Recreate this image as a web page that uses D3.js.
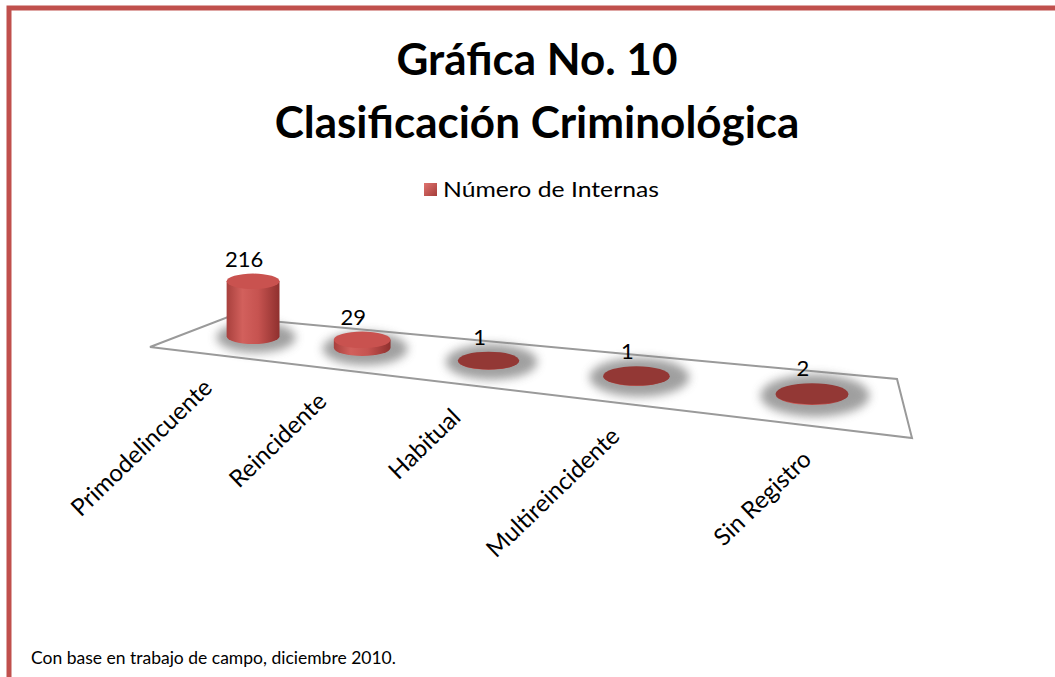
<!DOCTYPE html>
<html>
<head>
<meta charset="utf-8">
<script src="https://cdn.jsdelivr.net/npm/d3@7"></script>
<style>
  body { margin: 0; background: #fff; }
  svg { display: block; font-family: Lato, "Open Sans", sans-serif; }
</style>
</head>
<body>
<div id="chart"></div>
<script>
// datos de la gráfica
const categories = ["Primodelincuente", "Reincidente", "Habitual", "Multireincidente", "Sin Registro"]
const values = [216, 29, 1, 1, 2]
const seriesName = "Número de Internas"
const titleLines = ["Gráfica No. 10", "Clasificación Criminológica"]
const note = "Con base en trabajo de campo, diciembre 2010."

const width = 1055
const height = 677

const svg = d3.select('#chart').append('svg')
    .attr('width', width).attr('height', height)

const defs = svg.append('defs')

const bodyGrad = defs.append('linearGradient').attr('id', 'body-grad')
    .attr('x1', 0).attr('x2', 1).attr('y1', 0).attr('y2', 0)
bodyGrad.selectAll('stop')
    .data([[0, '#a8403d'], [0.3, '#d2605c'], [0.6, '#c65350'], [1, '#8f302e']])
    .enter().append('stop')
    .attr('offset', d => d[0]).attr('stop-color', d => d[1])

const legendGrad = defs.append('linearGradient').attr('id', 'legend-grad')
    .attr('x1', 0).attr('x2', 1).attr('y1', 0).attr('y2', 1)
legendGrad.selectAll('stop')
    .data([[0, '#e07470'], [1, '#a53c39']])
    .enter().append('stop')
    .attr('offset', d => d[0]).attr('stop-color', d => d[1])

defs.append('filter').attr('id', 'blur')
    .attr('x', '-50%').attr('y', '-100%').attr('width', '200%').attr('height', '300%')
    .append('feGaussianBlur').attr('stdDeviation', 5)

// marco rojo (solo arriba e izquierda)
svg.append('path')
    .attr('d', `M9,${height} L9,8 L${width},8`)
    .attr('fill', 'none').attr('stroke', '#c0504d').attr('stroke-width', 5)

// título
svg.append('g').selectAll('text').data(titleLines)
    .enter().append('text')
    .attr('x', 537).attr('y', (d, i) => 75 + i * 63)
    .attr('text-anchor', 'middle')
    .attr('font-size', 44).attr('font-weight', 'bold')
    .attr('fill', '#000')
    .text(d => d)

// leyenda
const legend = svg.append('g')
legend.append('rect')
    .attr('x', 424).attr('y', 183).attr('width', 13).attr('height', 13)
    .attr('fill', 'url(#legend-grad)')
legend.append('text')
    .attr('x', 443).attr('y', 197)
    .attr('font-size', 22).attr('fill', '#000')
    .attr('textLength', 216).attr('lengthAdjust', 'spacingAndGlyphs')
    .text(seriesName)

// piso en perspectiva: esquinas (atrás-izq, atrás-der, frente-der, frente-izq)
const floor = [[228, 317], [897, 379], [912, 438], [150, 347]]

function homography(q) {
    const [x0, y0] = q[0], [x1, y1] = q[1], [x2, y2] = q[2], [x3, y3] = q[3]
    const dx1 = x1 - x2, dy1 = y1 - y2
    const dx2 = x3 - x2, dy2 = y3 - y2
    const dx3 = x0 - x1 + x2 - x3, dy3 = y0 - y1 + y2 - y3
    const den = dx1 * dy2 - dx2 * dy1
    const g = (dx3 * dy2 - dx2 * dy3) / den
    const h = (dx1 * dy3 - dx3 * dy1) / den
    const a = x1 - x0 + g * x1, b = x3 - x0 + h * x3, c = x0
    const d = y1 - y0 + g * y1, e = y3 - y0 + h * y3, f = y0
    return (u, v) => {
        const w = g * u + h * v + 1
        return [(a * u + b * v + c) / w, (d * u + e * v + f) / w, w]
    }
}
const project = homography(floor)

const uScale = d3.scalePoint().domain(categories).range([0.12, 0.91])
const hScale = d3.scaleLinear().domain([0, d3.max(values)]).range([0, 50])
const topColor = d3.scaleLinear().domain([1, 5]).range(['#933835', '#c9524f']).clamp(true)

svg.append('path')
    .attr('d', d3.line()(floor) + 'Z')
    .attr('fill', '#fff').attr('stroke', '#9a9a9a').attr('stroke-width', 2)

const bars = categories.map((c, i) => {
    const [x, y, w] = project(uScale(c), 0.47)
    const rx = 24 / w, ry = 7 / w
    const hh = hScale(values[i]) / w
    return { cat: c, value: values[i], x, y, rx, ry, hh }
})

// sombras
svg.append('g').selectAll('ellipse').data(bars)
    .enter().append('ellipse')
    .attr('cx', d => d.x + 3).attr('cy', d => d.y + 1)
    .attr('rx', d => d.rx * 1.5).attr('ry', d => d.ry * 2)
    .attr('fill', '#888').attr('opacity', 0.8)
    .attr('filter', 'url(#blur)')

// cilindros
const cyl = svg.append('g').selectAll('g').data(bars).enter().append('g')

cyl.append('path')
    .attr('d', d => {
        const t = d.y - d.hh
        return `M${d.x - d.rx},${d.y} L${d.x - d.rx},${t}` +
            ` L${d.x + d.rx},${t} L${d.x + d.rx},${d.y}` +
            ` A${d.rx},${d.ry} 0 0 1 ${d.x - d.rx},${d.y} Z`
    })
    .attr('fill', 'url(#body-grad)')

cyl.append('ellipse')
    .attr('cx', d => d.x).attr('cy', d => d.y - d.hh)
    .attr('rx', d => d.rx).attr('ry', d => d.ry)
    .attr('fill', d => topColor(d.hh))

// etiquetas de valor
svg.append('g').selectAll('text').data(bars)
    .enter().append('text')
    .attr('x', d => d.x - 9).attr('y', d => d.y - d.hh - d.ry - 7)
    .attr('text-anchor', 'middle')
    .attr('font-size', 22).attr('fill', '#000')
    .text(d => d.value)

// etiquetas de categoría
svg.append('g').selectAll('text').data(categories)
    .enter().append('text')
    .attr('transform', c => {
        const [x, y] = project(uScale(c), 1)
        return `translate(${x + 2},${y + 35}) rotate(-44)`
    })
    .attr('text-anchor', 'end')
    .attr('font-size', 24).attr('fill', '#000')
    .text(c => c)

// nota
svg.append('text')
    .attr('x', 31).attr('y', 664)
    .attr('font-size', 17.5).attr('fill', '#000')
    .text(note)
</script>
</body>
</html>
